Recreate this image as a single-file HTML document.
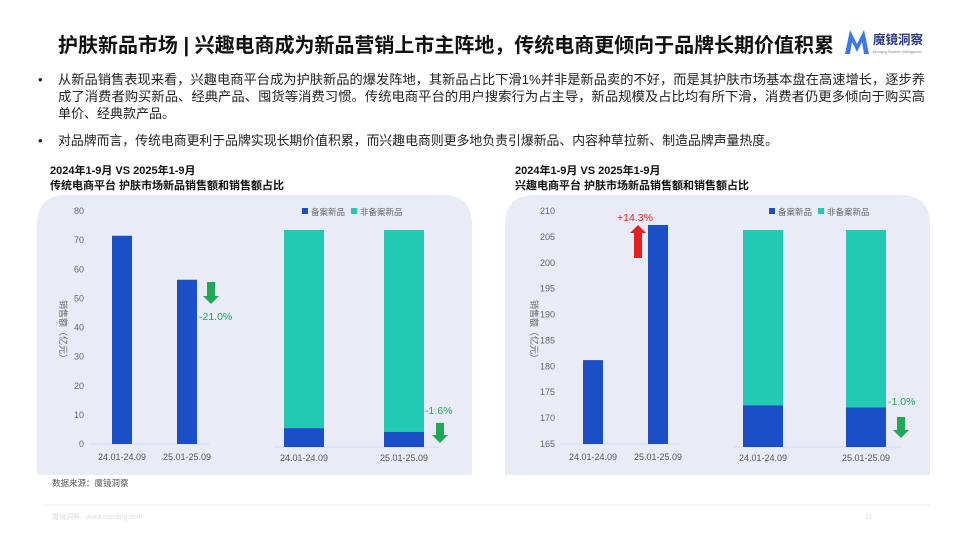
<!DOCTYPE html>
<html><head><meta charset="utf-8"><style>
body{margin:0;width:960px;height:540px;background:#fff;overflow:hidden;font-family:"Liberation Sans","Noto Sans CJK SC",sans-serif;}
svg{display:block}
</style></head><body>
<svg id="s" width="960" height="540" xmlns="http://www.w3.org/2000/svg" font-family="Liberation Sans, Noto Sans CJK SC, sans-serif">
<text x="58" y="52" font-size="20" font-weight="bold" fill="#111" textLength="776" lengthAdjust="spacingAndGlyphs">护肤新品市场 | 兴趣电商成为新品营销上市主阵地，传统电商更倾向于品牌长期价值积累</text>
<g>
<path d="M845 54 L850 30 L857 44 L864 30 L869 54 L864 54 L862 42 L857 52 L852 42 L850 54Z" fill="#3d78e8"/>
<text x="873" y="44" font-size="12.5" font-weight="bold" fill="#2a3a80">魔镜洞察</text>
<text x="873" y="53" font-size="4" fill="#888">Moojing Market Intelligence</text>
</g>
<g font-size="13" fill="#222">
<text x="38" y="84">•</text>
<text x="58" y="84" textLength="867" lengthAdjust="spacingAndGlyphs">从新品销售表现来看，兴趣电商平台成为护肤新品的爆发阵地，其新品占比下滑1%并非是新品卖的不好，而是其护肤市场基本盘在高速增长，逐步养</text>
<text x="58" y="101" textLength="867" lengthAdjust="spacingAndGlyphs">成了消费者购买新品、经典产品、囤货等消费习惯。传统电商平台的用户搜索行为占主导，新品规模及占比均有所下滑，消费者仍更多倾向于购买高</text>
<text x="58" y="118">单价、经典款产品。</text>
<text x="38" y="145">•</text>
<text x="58" y="145" textLength="720" lengthAdjust="spacingAndGlyphs">对品牌而言，传统电商更利于品牌实现长期价值积累，而兴趣电商则更多地负责引爆新品、内容种草拉新、制造品牌声量热度。</text>
</g>
<g font-size="11" font-weight="bold" fill="#111">
<text x="50" y="174">2024年1-9月 VS 2025年1-9月</text>
<text x="50" y="189">传统电商平台 护肤市场新品销售额和销售额占比</text>
<text x="515" y="174">2024年1-9月 VS 2025年1-9月</text>
<text x="515" y="189">兴趣电商平台 护肤市场新品销售额和销售额占比</text>
</g>
<path d="M37 475 L37 225 Q37 195 67 195 L442 195 Q472 195 472 225 L472 475Z" fill="#e9ecf7"/>
<path d="M505 475 L505 225 Q505 195 535 195 L900 195 Q930 195 930 225 L930 475Z" fill="#e9ecf7"/>
<g id="charts"></g>
<text x="52" y="486" font-size="8.5" fill="#555">数据来源：魔镜洞察</text>
<line x1="45" y1="505" x2="930" y2="505" stroke="#f2f2f2"/>
<text x="52" y="519" font-size="7" fill="#ddd">魔镜洞察 · www.moojing.com</text>
<text x="865" y="519" font-size="7" fill="#ddd">11</text>
</svg>
<script>
const cats=["24.01-24.09","25.01-25.09"];
const leftSales=[71.5,56.4];
const leftTicks=[0,10,20,30,40,50,60,70,80];
const leftShare=[8.7,7.0];
const rightSales=[181.2,207.3];
const rightTicks=[165,170,175,180,185,190,195,200,205,210];
const rightShare=[19.2,18.2];
const leftChange=["-21.0%","-1.6%"];
const rightChange=["+14.3%","-1.0%"];
const NS="http://www.w3.org/2000/svg";
const g=document.getElementById('charts');
function el(t,a,txt){const e=document.createElementNS(NS,t);for(const k in a)e.setAttribute(k,a[k]);if(txt!=null)e.textContent=txt;g.appendChild(e);return e;}
const BLUE="#1a4fc8",TEAL="#22c9b3";
function drawBar(o){
 const y0=444,y1=211;const mn=o.ticks[0],mx=o.ticks[o.ticks.length-1];
 const sy=v=>y0-(v-mn)/(mx-mn)*(y0-y1);
 o.ticks.forEach(t=>{const e=el('text',{x:o.ax,y:sy(t)+3,'font-size':9,fill:'#666','text-anchor':'end'},t);
 
 });
 const yt=el('text',{x:0,y:0,'font-size':9,fill:'#666',transform:`translate(${o.ax-24},300) rotate(90)`},'销售额（亿元）');
 
 
 const bl=el('line',{x1:o.ax+5,x2:o.ax+125,y1:y0,y2:y0,stroke:'#d4d8e6'});
 
 
 o.vals.forEach((v,i)=>{const cx=o.cx[i];
  const r=el('rect',{x:cx-10,y:sy(v),width:20,height:y0-sy(v),fill:BLUE});
  
  
  const l=el('text',{x:cx,y:460,'font-size':9,fill:'#555','text-anchor':'middle'},cats[i]);
  
  });
 return sy;
}
function drawStack(o){
 const y0=447,yt=230;
 const sy=p=>y0-p/100*(y0-yt);
 el('line',{x1:o.cx[0]-30,x2:o.cx[1]+35,y1:y0,y2:y0,stroke:'#d4d8e6'});
 o.share.forEach((p,i)=>{const cx=o.cx[i];
  const a=el('rect',{x:cx-20,y:yt,width:40,height:sy(p)-yt,fill:TEAL});
  
  
  const b=el('rect',{x:cx-20,y:sy(p),width:40,height:y0-sy(p),fill:BLUE});
  
  
  const l=el('text',{x:cx,y:461,'font-size':9,fill:'#555','text-anchor':'middle'},cats[i]);
  
  });
 const lx=o.lx;
 el('rect',{x:lx,y:208,width:6,height:6,fill:BLUE});
 const t1=el('text',{x:lx+9,y:215,'font-size':8.5,fill:'#666'},'备案新品');
 
 
 el('rect',{x:lx+49,y:208,width:6,height:6,fill:TEAL});
 const t2=el('text',{x:lx+58,y:215,'font-size':8.5,fill:'#666'},'非备案新品');
 
 
 return sy;
}
function arrow(x,yTop,yBot,up,color){
 const w=4,h=8;let d;
 if(up)d=`M${x-w} ${yBot} L${x-w} ${yTop+h} L${x-w-4} ${yTop+h} L${x} ${yTop} L${x+w+4} ${yTop+h} L${x+w} ${yTop+h} L${x+w} ${yBot}Z`;
 else d=`M${x-w} ${yTop} L${x-w} ${yBot-h} L${x-w-4} ${yBot-h} L${x} ${yBot} L${x+w+4} ${yBot-h} L${x+w} ${yBot-h} L${x+w} ${yTop}Z`;
 const p=el('path',{d,fill:color});
 
 
}
function lab(x,y,t,c){const e=el('text',{x,y,'font-size':10.5,fill:c},t);
 
 }
const GREEN="#1fa856",RED="#e52020";
const sL=drawBar({ticks:leftTicks,vals:leftSales,ax:84,cx:[122,187]});
drawStack({share:leftShare,cx:[304,404],lx:302});
arrow(211,282,304,false,GREEN);lab(199,320,leftChange[0],GREEN);
arrow(440,423,443,false,GREEN);lab(425,414,leftChange[1],GREEN);
const sR=drawBar({ticks:rightTicks,vals:rightSales,ax:555,cx:[593,658]});
const sR2=drawStack({share:rightShare,cx:[763,866],lx:769});
arrow(638,225,258,true,RED);lab(617,221,rightChange[0],RED);
arrow(901,417,438,false,GREEN);lab(888,405,rightChange[1],GREEN);
</script>
</body></html>
